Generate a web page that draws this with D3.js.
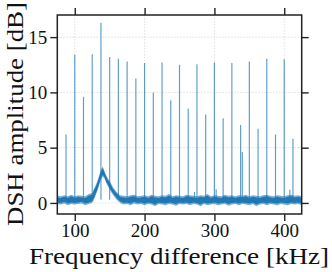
<!DOCTYPE html>
<html>
<head>
<meta charset="utf-8">
<script src="https://cdn.jsdelivr.net/npm/d3@7"></script>
<style>
  body { margin: 0; background: #fff; }
  text { font-family: "Liberation Serif", "DejaVu Serif", serif; fill: #111; }
</style>
</head>
<body>
<script>
// sideband frequencies (kHz) and peak amplitudes (dB)
const peakFreq = [87.5, 100, 112.5, 125, 137.5, 150, 162.5, 175, 187.5, 200, 212.5, 225, 237.5, 250,
  262.5, 275, 287.5, 300, 312.5, 325, 337.5, 340, 350, 362.5, 375, 387.5, 400, 412.5, 271.5, 302.5, 408];
const peakAmp = [6.2, 13.4, 9.6, 13.45, 16.3, 13.2, 13.05, 12.8, 11.25, 12.65, 10.0, 12.7, 9.3, 12.5,
  8.55, 12.55, 8.0, 12.7, 7.65, 12.65, 7.05, 4.6, 12.8, 6.7, 13.05, 6.2, 13.0, 5.8, 1.0, 1.25, 1.2];

// noise floor envelope (low / high) incl. the hump near 140 kHz
const noiseFreq = [75, 80, 85, 90, 95, 100, 105, 110, 115, 120, 125, 127.5, 130, 132.5, 135, 137.5, 140,
  142.5, 145, 147.5, 150, 155, 160, 165, 170, 175, 180, 185, 190, 195, 200, 205, 210, 215, 220, 225,
  230, 235, 240, 245, 250, 255, 260, 265, 270, 275, 280, 285, 290, 295, 300, 305, 310, 315, 320, 325,
  330, 335, 340, 345, 350, 355, 360, 365, 370, 375, 380, 385, 390, 395, 400, 405, 410, 415, 420, 425];
const noiseLo = [-0.1, -0.15, -0.05, -0.2, -0.1, -0.15, -0.1, -0.05, -0.2, -0.1, 0.0, 0.3, 0.7, 1.1, 1.6, 2.1, 2.4,
  2.2, 1.8, 1.5, 1.2, 0.7, 0.3, 0.0, -0.15, -0.1, -0.2, -0.05, -0.15, -0.1, -0.2, -0.1, -0.15, -0.3, -0.1, -0.15,
  -0.2, -0.1, -0.15, -0.25, -0.1, -0.15, -0.1, -0.2, -0.1, -0.15, -0.3, -0.1, -0.2, -0.15, -0.1, -0.2, -0.15, -0.1, -0.25, -0.15,
  -0.1, -0.2, -0.1, -0.15, -0.2, -0.1, -0.3, -0.15, -0.1, -0.2, -0.1, -0.15, -0.2, -0.1, -0.15, -0.2, -0.1, -0.15, -0.1, -0.2];
const noiseHi = [0.65, 0.6, 0.7, 0.6, 0.75, 0.6, 0.7, 0.65, 0.6, 0.8, 0.9, 1.3, 1.6, 2.0, 2.5, 3.0, 3.3,
  2.9, 2.5, 2.2, 2.0, 1.4, 1.0, 0.7, 0.65, 0.6, 0.7, 0.75, 0.6, 0.65, 0.7, 0.6, 0.75, 0.65, 0.6, 0.7,
  0.65, 0.8, 0.6, 0.7, 0.65, 0.6, 0.75, 0.7, 0.65, 0.6, 0.7, 0.65, 0.8, 0.6, 0.7, 0.65, 0.6, 0.75, 0.65, 0.7,
  0.6, 0.7, 0.65, 0.75, 0.6, 0.7, 0.65, 0.6, 0.7, 0.75, 0.65, 0.6, 0.7, 0.65, 0.6, 0.7, 0.75, 0.65, 0.7, 0.6];

const xTicks = [100, 200, 300, 400];
const yTicks = [0, 5, 10, 15];

const width = 332, height = 272;
const mLeft = 57.3, mRight = 301.7, mTop = 15, mBottom = 214;
const color = "#1f77b4";

const svg = d3.select("body").append("svg")
  .attr("width", width)
  .attr("height", height);

const x = d3.scaleLinear().domain([75, 425]).range([mLeft, mRight]);
const y = d3.scaleLinear().domain([-1, 17]).range([mBottom, mTop]);

svg.append("clipPath").attr("id", "plot")
  .append("rect").attr("x", mLeft).attr("y", mTop).attr("width", mRight - mLeft).attr("height", mBottom - mTop);

// grid
svg.selectAll(".gx").data(xTicks).enter().append("line")
  .attr("x1", d => x(d)).attr("x2", d => x(d)).attr("y1", mTop).attr("y2", mBottom)
  .attr("stroke", "#d8d8d8").attr("stroke-width", 0.8).attr("stroke-dasharray", "1.5,1.5");
svg.selectAll(".gy").data(yTicks).enter().append("line")
  .attr("x1", mLeft).attr("x2", mRight).attr("y1", d => y(d)).attr("y2", d => y(d))
  .attr("stroke", "#d8d8d8").attr("stroke-width", 0.8).attr("stroke-dasharray", "1.5,1.5");

const plot = svg.append("g").attr("clip-path", "url(#plot)");

// spikes
plot.selectAll(".spike").data(peakFreq).enter().append("line")
  .attr("x1", d => x(d)).attr("x2", d => x(d))
  .attr("y1", y(0.3)).attr("y2", (d, i) => y(peakAmp[i]))
  .attr("stroke", color).attr("stroke-width", 1.2).attr("stroke-opacity", 0.7);

// noise band: light outer envelope, solid core
const band = (pad) => d3.area()
  .x((d, i) => x(noiseFreq[i]))
  .y0((d, i) => y(noiseLo[i] + pad))
  .y1((d, i) => y(noiseHi[i] - pad));
plot.append("path").datum(noiseFreq)
  .attr("d", band(0))
  .attr("fill", color).attr("fill-opacity", 0.6);
plot.append("path").datum(noiseFreq)
  .attr("d", band(0.15))
  .attr("fill", color);

// axes
const tickLen = 7;
const axisStyle = g => {
  g.select(".domain").remove();
  g.selectAll(".tick line").attr("stroke", "#222").attr("stroke-width", 1.4);
  g.selectAll(".tick text").attr("font-size", 19).attr("fill", "#111")
    .style("font-family", '"Liberation Serif", "DejaVu Serif", serif');
};
svg.append("g").attr("transform", `translate(0,${mBottom})`)
  .call(d3.axisBottom(x).tickValues(xTicks).tickSize(tickLen).tickPadding(3))
  .call(axisStyle);
svg.append("g").attr("transform", `translate(0,${mTop})`)
  .call(d3.axisTop(x).tickValues(xTicks).tickSize(tickLen).tickFormat(""))
  .call(axisStyle);
svg.append("g").attr("transform", `translate(${mLeft},0)`)
  .call(d3.axisLeft(y).tickValues(yTicks).tickSize(tickLen).tickPadding(3))
  .call(axisStyle);
svg.append("g").attr("transform", `translate(${mRight},0)`)
  .call(d3.axisRight(y).tickValues(yTicks).tickSize(tickLen).tickFormat(""))
  .call(axisStyle);

// frame
svg.append("rect")
  .attr("x", mLeft).attr("y", mTop).attr("width", mRight - mLeft).attr("height", mBottom - mTop)
  .attr("fill", "none").attr("stroke", "#222").attr("stroke-width", 1.5);

// labels
svg.append("text")
  .attr("x", 179).attr("y", 264)
  .attr("text-anchor", "middle").attr("font-size", 24)
  .attr("textLength", 300).attr("lengthAdjust", "spacingAndGlyphs")
  .text("Frequency difference [kHz]");
svg.append("text")
  .attr("transform", `translate(23,114) rotate(-90)`)
  .attr("text-anchor", "middle").attr("font-size", 24)
  .attr("textLength", 224).attr("lengthAdjust", "spacingAndGlyphs")
  .text("DSH amplitude [dB]");
</script>
</body>
</html>
